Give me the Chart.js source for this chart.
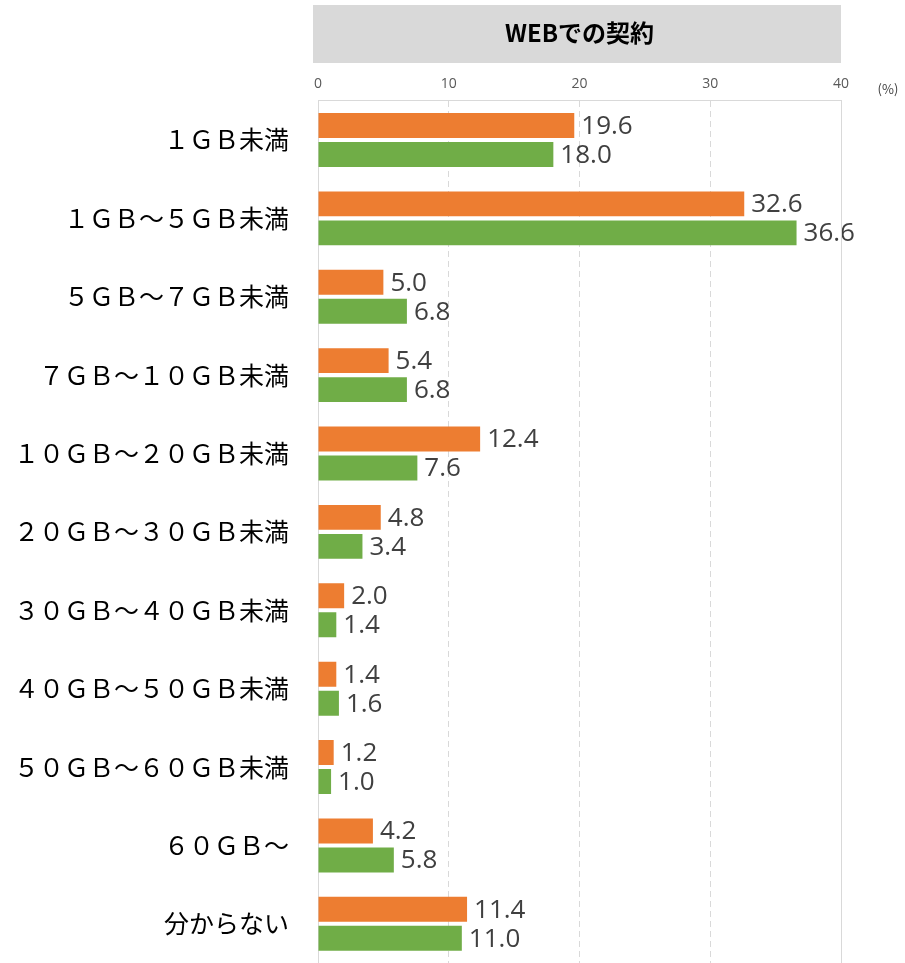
<!DOCTYPE html>
<html>
<head>
<meta charset="utf-8">
<script src="https://cdn.jsdelivr.net/npm/chart.js@4"></script>
<style>
  body { margin: 0; background: #fff; }
</style>
</head>
<body>
<canvas id="chart" width="905" height="963"></canvas>
<script>
// categories and values
const categories = [
  '１ＧＢ未満', '１ＧＢ～５ＧＢ未満', '５ＧＢ～７ＧＢ未満', '７ＧＢ～１０ＧＢ未満',
  '１０ＧＢ～２０ＧＢ未満', '２０ＧＢ～３０ＧＢ未満', '３０ＧＢ～４０ＧＢ未満',
  '４０ＧＢ～５０ＧＢ未満', '５０ＧＢ～６０ＧＢ未満', '６０ＧＢ～', '分からない'
];
const orangeValues = [19.6, 32.6, 5.0, 5.4, 12.4, 4.8, 2.0, 1.4, 1.2, 4.2, 11.4];
const greenValues = [18.0, 36.6, 6.8, 6.8, 7.6, 3.4, 1.4, 1.6, 1.0, 5.8, 11.0];
const tickValues = [0, 10, 20, 30, 40];
const chartTitle = 'WEBでの契約';
const unitLabel = '(%)';

const JP_FONT = '"Noto Sans CJK JP", "Noto Sans", sans-serif';
const NUM_FONT = '"Open Sans", "Noto Sans", sans-serif';

// Title box, frame and unit label
const decorations = {
  id: 'decorations',
  beforeDraw(chart) {
    const { ctx, chartArea } = chart;
    ctx.save();
    ctx.fillStyle = '#d9d9d9';
    ctx.fillRect(chartArea.left - 5, 5, chartArea.right - chartArea.left + 5, 58);
    ctx.fillStyle = '#000';
    ctx.font = 'bold 24px ' + JP_FONT;
    ctx.textAlign = 'center';
    ctx.textBaseline = 'middle';
    ctx.fillText(chartTitle, (chartArea.left + chartArea.right) / 2, 33);
    ctx.font = '13px ' + JP_FONT;
    ctx.fillStyle = '#404040';
    ctx.fillText(unitLabel, 888, 89);
    ctx.restore();
  },
  afterDraw(chart) {
    const { ctx, chartArea } = chart;
    ctx.save();
    ctx.strokeStyle = '#d9d9d9';
    ctx.lineWidth = 1;
    ctx.beginPath();
    ctx.moveTo(chartArea.right + 0.5, chartArea.top);
    ctx.lineTo(chartArea.right + 0.5, chartArea.bottom);
    ctx.stroke();
    ctx.restore();
  }
};

// value labels to the right of each bar
const valueLabels = {
  id: 'valueLabels',
  afterDatasetsDraw(chart) {
    const { ctx } = chart;
    ctx.save();
    ctx.font = '26px ' + NUM_FONT;
    ctx.fillStyle = '#404040';
    ctx.textAlign = 'left';
    ctx.textBaseline = 'middle';
    chart.data.datasets.forEach((ds, i) => {
      chart.getDatasetMeta(i).data.forEach((bar, j) => {
        ctx.fillText(ds.data[j].toFixed(1), bar.x + 7, bar.y + 1);
      });
    });
    ctx.restore();
  }
};

new Chart(document.getElementById('chart'), {
  type: 'bar',
  data: {
    labels: categories,
    datasets: [
      { data: orangeValues, backgroundColor: '#ED7D31', barPercentage: 0.86, categoryPercentage: 0.74 },
      { data: greenValues, backgroundColor: '#70AD47', barPercentage: 0.86, categoryPercentage: 0.74 }
    ]
  },
  options: {
    indexAxis: 'y',
    responsive: false,
    animation: false,
    layout: { padding: { top: 68, right: 64, left: 0, bottom: 0 } },
    plugins: {
      legend: { display: false },
      tooltip: { enabled: false }
    },
    scales: {
      x: {
        position: 'top',
        min: 0,
        max: 40,
        afterBuildTicks(scale) {
          scale.ticks = tickValues.map((v) => ({ value: v }));
        },
        ticks: {
          color: '#595959',
          font: { size: 14, family: NUM_FONT },
          padding: 8
        },
        grid: {
          color: '#d9d9d9',
          drawTicks: false
        },
        border: {
          color: '#d9d9d9',
          dash: (c) => (c.tick && c.tick.value > 0 && c.tick.value < 40 ? [6, 4] : [])
        }
      },
      y: {
        afterFit(scale) {
          scale.width = 318;
          scale.paddingTop = 0;
          scale.paddingBottom = 0;
        },
        ticks: {
          color: '#000',
          font: { size: 25, family: JP_FONT },
          padding: 21
        },
        grid: { display: false },
        border: { color: '#d9d9d9' }
      }
    }
  },
  plugins: [decorations, valueLabels]
});
</script>
</body>
</html>
